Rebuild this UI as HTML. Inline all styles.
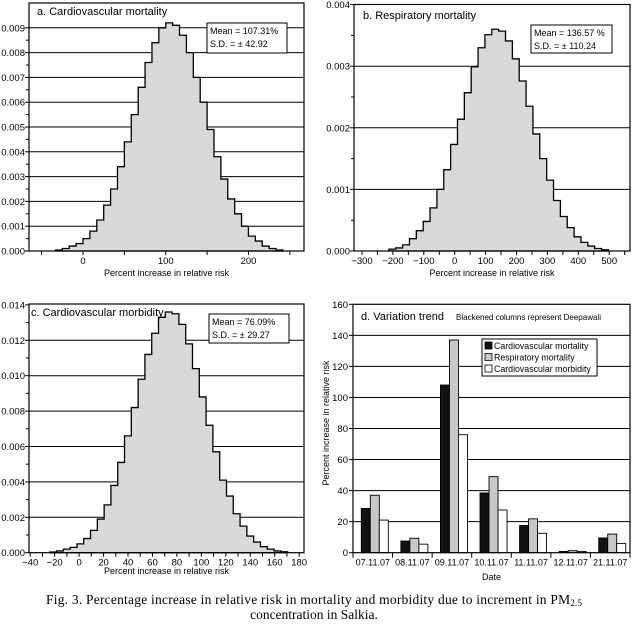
<!DOCTYPE html>
<html><head><meta charset="utf-8"><style>
html,body{margin:0;padding:0;background:#fff;}
svg{display:block;font-family:"Liberation Sans",sans-serif;}
</style></head><body>
<svg id="fig" width="634" height="624" viewBox="0 0 634 624" xmlns="http://www.w3.org/2000/svg">
<text x="314" y="604" font-family="Liberation Serif" font-size="13.5" text-anchor="middle" textLength="536">Fig. 3. Percentage increase in relative risk in mortality and morbidity due to increment in PM<tspan font-size="9" dy="2">2.5</tspan></text>
<text x="314" y="619" font-family="Liberation Serif" font-size="13.5" text-anchor="middle">concentration in Salkia.</text>
</svg>
<script>
// Panel a data
const aStart = -33.3, aWidth = 8.33;
const aValues = [0.00004,0.0001,0.0002,0.0003,0.0005,0.0008,0.00125,0.00185,0.0025,0.0034,0.0044,0.0055,0.0066,0.0076,0.0084,0.0090,0.0092,0.0091,0.0087,0.0080,0.0070,0.0060,0.0049,0.0038,0.0029,0.0021,0.0015,0.0010,0.0006,0.0004,0.0002,0.0001,0.00004];
const aYTicks = ["0.000","0.001","0.002","0.003","0.004","0.005","0.006","0.007","0.008","0.009"];
const aXTicks = [0,100,200];
// Panel b data
const bStart = -213, bWidth = 22.2;
const bValues = [0.00003,0.00005,0.0001,0.0002,0.00033,0.00048,0.0007,0.001,0.00132,0.00173,0.00214,0.00257,0.00299,0.0033,0.00351,0.0036,0.00357,0.00341,0.00312,0.00276,0.00235,0.0019,0.0015,0.00115,0.00082,0.00056,0.00038,0.00023,0.00014,0.00008,0.00004,0.00002];
const bYTicks = ["0.000","0.001","0.002","0.003","0.004"];
const bXTicks = [-300,-200,-100,0,100,200,300,400,500];
// Panel c data
const cStart = -24, cWidth = 5.56;
const cValues = [0.00004,0.0001,0.0002,0.0003,0.0005,0.0008,0.00126,0.0019,0.0027,0.0038,0.0051,0.0066,0.0082,0.0098,0.0112,0.0124,0.0133,0.0136,0.0135,0.0129,0.0118,0.0104,0.0088,0.0072,0.0057,0.0041,0.0032,0.0022,0.0015,0.00094,0.0006,0.00034,0.0002,0.0001,0.00005];
const cYTicks = ["0.000","0.002","0.004","0.006","0.008","0.010","0.012","0.014"];
const cXTicks = [-40,-20,0,20,40,60,80,100,120,140,160,180];
// Panel d data
const dDates = ["07.11.07","08.11.07","09.11.07","10.11.07","11.11.07","12.11.07","21.11.07"];
const dCardioMort = [28.5,7.5,108,38.5,17.5,0.8,9.5];
const dRespMort = [37,9.3,137,49,21.8,1.3,12];
const dCardioMorb = [21,5.5,76,27.5,12.5,0.8,6];
const dYTicks = [0,20,40,60,80,100,120,140,160];

const NS="http://www.w3.org/2000/svg";
const svg=document.getElementById('fig');
function mk(tag,attrs,parent,txt){const e=document.createElementNS(NS,tag);for(const k in attrs)e.setAttribute(k,attrs[k]);if(txt!==undefined)e.textContent=txt;(parent||svg).appendChild(e);return e;}

function hist(cfg){
  const g=mk('g',{});
  
  
  const xs=v=>cfg.x0px+(v-cfg.x0v)*cfg.xk;
  const ys=v=>cfg.bottom-v*cfg.yk;
  // gridlines
  cfg.yTicks.forEach((t,i)=>{
    const v=parseFloat(t);const y=ys(v);
    if(v>0 && y>cfg.top+1){const l=mk('line',{x1:cfg.left,x2:cfg.right,y1:y,y2:y,stroke:'#000','stroke-width':1},g);
      
      }
  });
  // histogram
  let d='M'+xs(cfg.start)+','+cfg.bottom;
  cfg.values.forEach((v,i)=>{const x1=xs(cfg.start+i*cfg.width),x2=xs(cfg.start+(i+1)*cfg.width);d+=' L'+x1+','+ys(v)+' L'+x2+','+ys(v);});
  d+=' L'+xs(cfg.start+cfg.values.length*cfg.width)+','+cfg.bottom+' Z';
  const p=mk('path',{d:d,fill:'#d9d9d9',stroke:'#000','stroke-width':1.3},g);
  
  
  // frame
  const fr=mk('rect',{x:cfg.left,y:cfg.top,width:cfg.right-cfg.left,height:cfg.bottom-cfg.top,fill:'none',stroke:'#000','stroke-width':1.2},g);
  
  
  // y ticks
  cfg.yTicks.forEach((t,i)=>{
    const v=parseFloat(t);const y=ys(v);
    mk('line',{x1:cfg.left-4,x2:cfg.left,y1:y,y2:y,stroke:'#000'},g);
    const tx=mk('text',{x:cfg.left-4,y:y+3.5,'font-size':9.5,'text-anchor':'end'},g,t);
    
    
    if(i<cfg.yTicks.length-1){const ym=ys((v+parseFloat(cfg.yTicks[i+1]))/2);mk('line',{x1:cfg.left-3,x2:cfg.left,y1:ym,y2:ym,stroke:'#000'},g);}
  });
  // x ticks
  cfg.minorX.forEach(v=>{const x=xs(v);mk('line',{x1:x,x2:x,y1:cfg.bottom,y2:cfg.bottom+4,stroke:'#000'},g);});
  cfg.xTicks.forEach(v=>{const x=xs(v);mk('line',{x1:x,x2:x,y1:cfg.bottom,y2:cfg.bottom+4,stroke:'#000'},g);
    const tx=mk('text',{x:x,y:cfg.bottom+13,'font-size':9.5,'text-anchor':'middle'},g,v<0?'\u2212'+(-v):String(v));
    
    });
  const xt=mk('text',{x:(cfg.left+cfg.right)/2,y:cfg.xTitleY,'font-size':9,'text-anchor':'middle'},g,'Percent increase in relative risk');
  
  
  const tt=mk('text',{x:cfg.titleX,y:cfg.titleY,'font-size':11},g,cfg.title);
  
  
  const lg=mk('g',{},g);
  
  
  mk('rect',{x:cfg.box[0],y:cfg.box[1],width:cfg.box[2],height:cfg.box[3],fill:'#fff',stroke:'#000'},lg);
  mk('text',{x:cfg.box[0]+3,y:cfg.box[1]+11,'font-size':9},lg,cfg.mean);
  mk('text',{x:cfg.box[0]+3,y:cfg.box[1]+24,'font-size':9},lg,cfg.sd);
}
function range(a,b,s){const r=[];for(let v=a;v<=b+1e-9;v+=s)r.push(v);return r;}

hist({name:'panel-a-cardiovascular-mortality',left:29,right:304,top:3,bottom:251,x0px:83,x0v:0,xk:0.8275,yk:24800,
  start:aStart,width:aWidth,values:aValues,yTicks:aYTicks,xTicks:aXTicks,minorX:[-50,50,150,250],
  xTitleY:276,title:'a. Cardiovascular mortality',titleX:37,titleY:15,box:[207,23,80,30],mean:'Mean = 107.31%',sd:'S.D. = \u00b1 42.92'});
hist({name:'panel-b-respiratory-mortality',left:354,right:630,top:4.5,bottom:251,x0px:454.7,x0v:0,xk:0.309,yk:61600,
  start:bStart,width:bWidth,values:bValues,yTicks:bYTicks,xTicks:bXTicks,minorX:range(-250,550,100),
  xTitleY:276,title:'b. Respiratory mortality',titleX:363,titleY:19,box:[531,25,81,28],mean:'Mean = 136.57 %',sd:'S.D. = \u00b1 110.24'});
hist({name:'panel-c-cardiovascular-morbidity',left:29,right:304,top:304,bottom:552.7,x0px:79.1,x0v:0,xk:1.2225,yk:17700,
  start:cStart,width:cWidth,values:cValues,yTicks:cYTicks,xTicks:cXTicks,minorX:range(-30,170,20),
  xTitleY:574,title:'c. Cardiovascular morbidity',titleX:31,titleY:316,box:[209,314,80,29],mean:'Mean = 76.09%',sd:'S.D. = \u00b1 29.27'});

// Panel d
(function(){
  const L=353,R=630,T=304.3,B=552.7;
  const g=mk('g',{});
  
  
  const ys=v=>B-(v/160)*(B-T);
  const cw=(R-L)/dDates.length;
  dYTicks.forEach(v=>{const y=ys(v);
    if(v>0&&v<160){const l=mk('line',{x1:L,x2:R,y1:y,y2:y,stroke:'#000'},g);
      
      }
    mk('line',{x1:L-4,x2:L,y1:y,y2:y,stroke:'#000'},g);
    const t=mk('text',{x:L-5,y:y+3.5,'font-size':9.5,'text-anchor':'end'},g,String(v));
    
    
  });
  const series=[[dCardioMort,'#111','cardio-mortality-bar'],[dRespMort,'#c8c8c8','respiratory-mortality-bar'],[dCardioMorb,'#fff','cardio-morbidity-bar']];
  dDates.forEach((dt,i)=>{
    const cx=L+i*cw;
    series.forEach((s,j)=>{
      const v=s[0][i];
      const r=mk('rect',{x:cx+8.3+j*9,y:ys(v),width:9,height:B-ys(v),fill:s[1],stroke:'#000','stroke-width':0.9},g);
      
      
    });
    mk('line',{x1:cx,x2:cx,y1:B,y2:B+5,stroke:'#000'},g);
    const t=mk('text',{x:cx+cw/2,y:B+13,'font-size':9,'text-anchor':'middle'},g,dt);
    
    
  });
  mk('line',{x1:R,x2:R,y1:B,y2:B+5,stroke:'#000'},g);
  const fr=mk('rect',{x:L,y:T,width:R-L,height:B-T,fill:'none',stroke:'#000','stroke-width':1.2},g);
  
  
  const xt=mk('text',{x:(L+R)/2,y:580,'font-size':9,'text-anchor':'middle'},g,'Date');
  
  
  const yt=mk('text',{x:0,y:0,'font-size':9,'text-anchor':'middle',transform:'translate(329,423) rotate(-90)'},g,'Percent increase in relative risk');
  
  
  const tt=mk('text',{x:361,y:320,'font-size':11},g,'d. Variation trend');
  
  
  const nt=mk('text',{x:456,y:320,'font-size':8},g,'Blackened columns represent Deepawali');
  
  
  const lg=mk('g',{},g);
  
  
  mk('rect',{x:482,y:339,width:115,height:37,fill:'#fff',stroke:'#000'},lg);
  const labels=['Cardiovascular mortality','Respiratory mortality','Cardiovascular morbidity'];
  series.forEach((s,j)=>{
    const e=mk('g',{},lg);
    
    
    mk('rect',{x:485,y:342+j*11.5,width:7,height:7,fill:s[1],stroke:'#000','stroke-width':0.8},e);
    mk('text',{x:494,y:349+j*11.5,'font-size':8.8},e,labels[j]);
  });
})();
</script>
</body></html>
